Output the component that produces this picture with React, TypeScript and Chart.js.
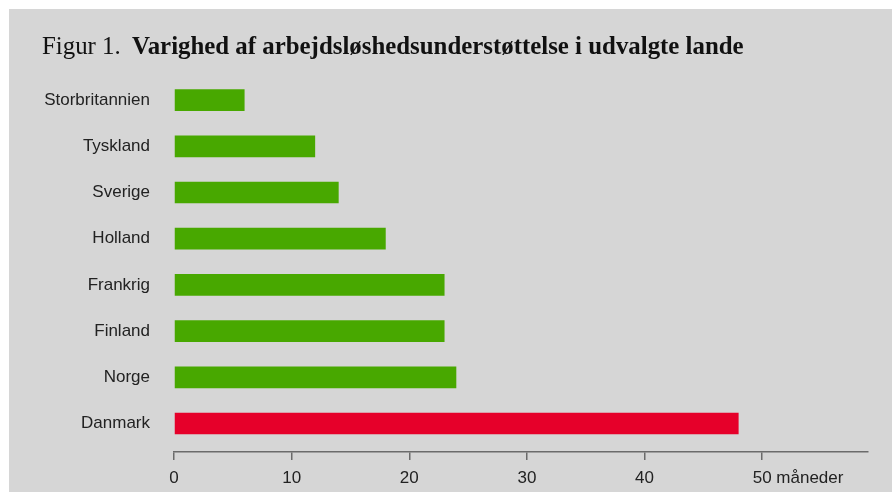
import React, { useEffect, useRef } from 'react';
import { Chart, registerables } from 'chart.js';

Chart.register(...registerables);

const countries = ['Storbritannien', 'Tyskland', 'Sverige', 'Holland', 'Frankrig', 'Finland', 'Norge', 'Danmark'];
const months = [6, 12, 14, 18, 23, 23, 24, 48];
const barColors = ['#48a800', '#48a800', '#48a800', '#48a800', '#48a800', '#48a800', '#48a800', '#e6002a'];
const xTickValues = [0, 10, 20, 30, 40, 50];
const unitLabel = 'måneder';
const titlePrefix = 'Figur 1.';
const titleText = 'Varighed af arbejdsløshedsunderstøttelse i udvalgte lande';

const SANS = '"Liberation Sans", Arial, sans-serif';
const SERIF = '"Liberation Serif", "Times New Roman", serif';
const AXIS_COLOR = '#6b6b6b';
const TEXT_COLOR = '#222222';

const shiftAxisPlugin = {
  id: 'shiftAxis',
  afterLayout(chart: any) {
    const x = chart.scales.x;
    x.top += 5.4;
    x.bottom += 5.4;
  },
};

const decorPlugin = {
  id: 'decor',
  afterDraw(chart: any) {
    const ctx = chart.ctx;
    ctx.save();
    // title
    const baseSize = 24;
    ctx.font = `bold ${baseSize}px ${SERIF}`;
    const wBold = ctx.measureText(titleText).width;
    const size = (baseSize * 612) / wBold;
    ctx.textBaseline = 'alphabetic';
    ctx.textAlign = 'left';
    ctx.fillStyle = '#111111';
    ctx.font = `${size}px ${SERIF}`;
    ctx.fillText(titlePrefix, 33, 45);
    ctx.font = `bold ${size}px ${SERIF}`;
    ctx.fillText(titleText, 123, 45);

    // unit after last tick label
    const x = chart.scales.x;
    const last = xTickValues[xTickValues.length - 1];
    const px = x.getPixelForValue(last);
    ctx.font = `17px ${SANS}`;
    const wNum = ctx.measureText(String(last)).width;
    const wSpace = ctx.measureText(' ').width;
    const items = x.getLabelItems();
    const item = items[items.length - 1];
    const ty = item.options.translation[1] + (item.textOffset || 0);
    ctx.fillStyle = TEXT_COLOR;
    ctx.textBaseline = item.options.textBaseline || 'middle';
    ctx.fillText(unitLabel, px + wNum / 2 + wSpace, ty);
    ctx.restore();
  },
};

export default function App() {
  const ref = useRef<HTMLCanvasElement>(null);

  useEffect(() => {
    if (!ref.current) return;
    const chart = new Chart(ref.current, {
      type: 'bar',
      data: {
        labels: countries,
        datasets: [
          {
            data: months,
            backgroundColor: barColors,
            borderWidth: 0,
            barPercentage: 0.47,
            categoryPercentage: 1,
          },
        ],
      },
      options: {
        indexAxis: 'y',
        responsive: false,
        animation: false,
        devicePixelRatio: 1,
        layout: { padding: { top: 68, right: 24, bottom: 0, left: 0 } },
        plugins: {
          legend: { display: false },
          tooltip: { enabled: false },
          title: { display: false },
        },
        scales: {
          x: {
            type: 'linear',
            min: 0,
            max: 59,
            afterBuildTicks: (s: any) => {
              s.ticks = xTickValues.map((v) => ({ value: v }));
            },
            afterFit: (s: any) => {
              s.height = 45.4;
            },
            grid: {
              display: true,
              drawOnChartArea: false,
              drawTicks: true,
              tickLength: 8,
              color: AXIS_COLOR,
              lineWidth: 1.5,
            },
            border: { display: true, color: AXIS_COLOR, width: 1.5 },
            ticks: {
              color: TEXT_COLOR,
              font: { family: SANS, size: 17 },
              padding: 8,
              maxRotation: 0,
              autoSkip: false,
            },
          },
          y: {
            type: 'category',
            afterFit: (s: any) => {
              s.width = 165;
            },
            grid: { display: false, drawTicks: false },
            border: { display: false },
            ticks: {
              color: TEXT_COLOR,
              font: { family: SANS, size: 17 },
              padding: 24,
              autoSkip: false,
            },
          },
        },
      },
      plugins: [shiftAxisPlugin, decorPlugin],
    } as any);
    return () => chart.destroy();
  }, []);

  return (
    <div
      style={{
        position: 'absolute',
        left: 9,
        top: 9,
        width: 883,
        height: 483,
        background: '#d6d6d6',
      }}
    >
      <canvas ref={ref} width={883} height={483} style={{ display: 'block' }} />
    </div>
  );
}
